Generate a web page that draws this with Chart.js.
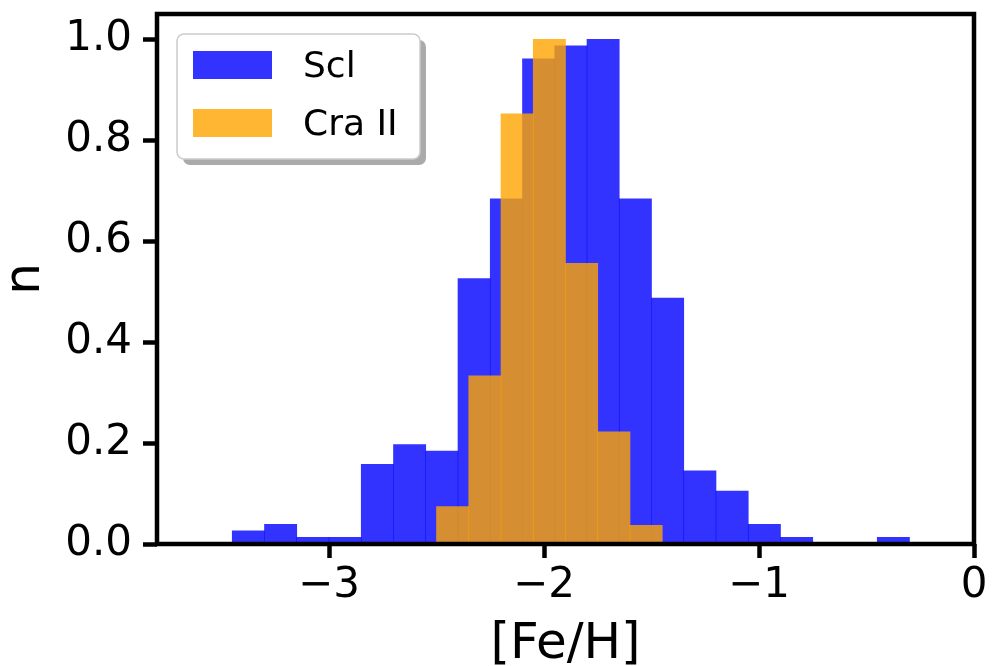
<!DOCTYPE html>
<html>
<head>
<meta charset="utf-8">
<script src="https://cdn.jsdelivr.net/npm/chart.js@4.4.1/dist/chart.umd.min.js"></script>
<style>
  html, body { margin: 0; padding: 0; background: #fff; }
  #wrap { width: 992px; height: 666px; }
</style>
</head>
<body>
<div id="wrap"><canvas id="chart"></canvas></div>
<script>
// histogram bins: left edges in [Fe/H], fixed width
const binWidth = 0.15;
const sclBins = [-3.45, -3.30, -3.15, -3.00, -2.85, -2.70, -2.55, -2.40, -2.25, -2.10, -1.95,
                 -1.80, -1.65, -1.50, -1.35, -1.20, -1.05, -0.90, -0.75, -0.60, -0.45];
const sclHeights = [0.026, 0.039, 0.013, 0.013, 0.158, 0.197, 0.184, 0.526, 0.684, 0.961, 0.987,
                    1.0, 0.684, 0.487, 0.145, 0.105, 0.039, 0.013, 0, 0, 0.013];
const craBins = [-2.50, -2.35, -2.20, -2.05, -1.90, -1.75, -1.60];
const craHeights = [0.074, 0.333, 0.852, 1.0, 0.556, 0.222, 0.037];

const xTicks = [-3, -2, -1, 0];
const yTicks = [0, 0.2, 0.4, 0.6, 0.8, 1.0];

const FONT = 'DejaVu Sans';

function toPoints(edges, heights) {
  return edges.map((e, i) => ({ x: e + binWidth / 2, y: heights[i] }));
}

const fixTicks = list => scale => { scale.ticks = list.map(v => ({ value: v })); };

// keep tick labels from pushing the plot area inwards
const noEdgePadding = size => scale => {
  Object.assign(scale, size, { paddingTop: 0, paddingBottom: 0, paddingLeft: 0, paddingRight: 0 });
};

// black box round the plot area
const frame = {
  id: 'frame',
  afterDatasetsDraw(chart) {
    const { ctx, chartArea: a } = chart;
    ctx.save();
    ctx.strokeStyle = '#000';
    ctx.lineWidth = 4.5;
    ctx.strokeRect(a.left, a.top, a.right - a.left, a.bottom - a.top);
    ctx.restore();
  }
};

// legend in a rounded box with a drop shadow
const boxLegend = {
  id: 'boxLegend',
  afterDraw(chart) {
    const { ctx, chartArea: a } = chart;
    const x = a.left + 20, y = a.top + 20, w = 243, h = 125;
    ctx.save();
    ctx.fillStyle = '#aaaaaa';
    ctx.beginPath();
    ctx.roundRect(x + 6, y + 6, w, h, 7);
    ctx.fill();
    ctx.fillStyle = '#ffffff';
    ctx.strokeStyle = '#cccccc';
    ctx.lineWidth = 1.5;
    ctx.beginPath();
    ctx.roundRect(x, y, w, h, 7);
    ctx.fill();
    ctx.stroke();
    ctx.font = '36px "' + FONT + '"';
    ctx.textBaseline = 'alphabetic';
    ctx.textAlign = 'left';
    chart.data.datasets.forEach((ds, i) => {
      const rowTop = y + 17 + i * 58;
      ctx.fillStyle = ds.backgroundColor;
      ctx.fillRect(x + 16, rowTop, 79, 28);
      ctx.fillStyle = '#000';
      ctx.fillText(ds.label, x + 126, rowTop + 26);
    });
    ctx.restore();
  }
};

const tickFont = { family: FONT, size: 42 };

new Chart(document.getElementById('chart'), {
  type: 'bar',
  data: {
    datasets: [
      {
        label: 'Scl',
        data: toPoints(sclBins, sclHeights),
        backgroundColor: 'rgba(0, 0, 255, 0.8)',
        xAxisID: 'x',
        order: 1,
        barPercentage: 1,
        categoryPercentage: 1,
        grouped: false,
      },
      {
        label: 'Cra II',
        data: toPoints(craBins, craHeights),
        backgroundColor: 'rgba(255, 165, 0, 0.8)',
        xAxisID: 'x2',
        order: 0,
        barPercentage: 1,
        categoryPercentage: 1,
        grouped: false,
      },
    ],
  },
  options: {
    responsive: true,
    maintainAspectRatio: false,
    animation: false,
    layout: { padding: { top: 14, right: 18, left: 0, bottom: 0 } },
    plugins: {
      legend: { display: false },
      tooltip: { enabled: false },
    },
    scales: {
      x: {
        type: 'linear',
        min: -3.8,
        max: 0,
        offset: false,
        afterBuildTicks: fixTicks(xTicks),
        afterFit: noEdgePadding({ height: 122 }),
        border: { display: false },
        grid: { offset: false, drawOnChartArea: false, drawTicks: true, tickLength: 14, tickWidth: 4.5, tickColor: '#000' },
        ticks: {
          color: '#000',
          font: tickFont,
          padding: 3,
          maxRotation: 0,
          callback: v => (v < 0 ? '\u2212' + Math.abs(v) : String(v)),
        },
        title: {
          display: true,
          text: '[Fe/H]',
          color: '#000',
          font: { family: FONT, size: 50, lineHeight: 0.8 },
          padding: { top: 0, bottom: 1 },
        },
      },
      x2: {
        type: 'linear',
        display: false,
        min: -3.8,
        max: 0,
        offset: false,
        afterBuildTicks: fixTicks(xTicks),
      },
      y: {
        type: 'linear',
        min: 0,
        max: 1.05,
        afterBuildTicks: fixTicks(yTicks),
        afterFit: noEdgePadding({ width: 157 }),
        border: { display: false },
        grid: { drawOnChartArea: false, drawTicks: true, tickLength: 14, tickWidth: 4.5, tickColor: '#000' },
        ticks: {
          color: '#000',
          font: tickFont,
          padding: 11,
          callback: v => v.toFixed(1),
        },
        title: {
          display: true,
          text: 'n',
          color: '#000',
          font: { family: FONT, size: 50, lineHeight: 1 },
          padding: { top: 1, bottom: 0 },
        },
      },
    },
  },
  plugins: [frame, boxLegend],
});
</script>
</body>
</html>
